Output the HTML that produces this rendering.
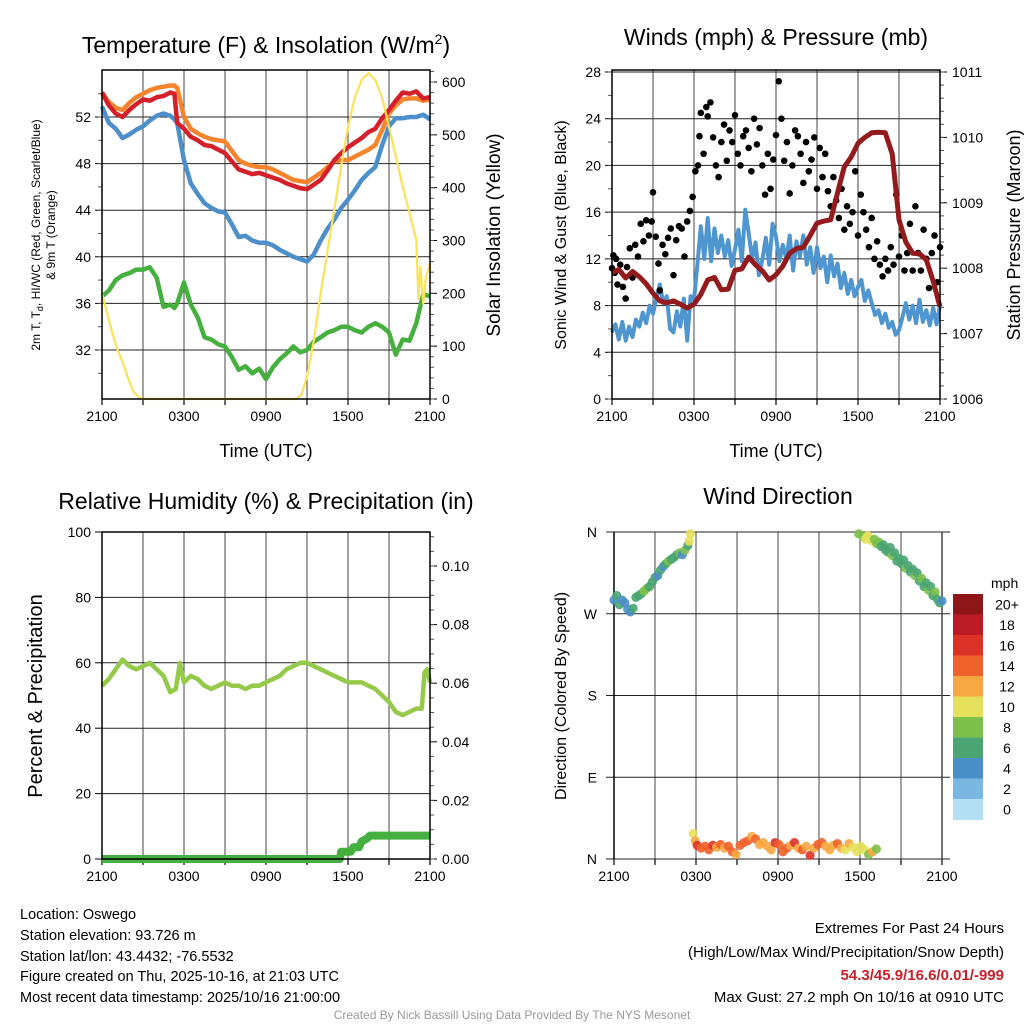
<!DOCTYPE html>
<html><head><meta charset="utf-8"><style>
html,body{margin:0;padding:0;background:#fff}
svg{display:block;font-family:"Liberation Sans",sans-serif}
</style></head><body>
<svg id="s" width="1024" height="1024" viewBox="0 0 1024 1024" xmlns="http://www.w3.org/2000/svg">
<g id="static">
<text x="266" y="53" font-size="23" text-anchor="middle">Temperature (F) &amp; Insolation (W/m<tspan font-size="14" dy="-9">2</tspan><tspan dy="9">)</tspan></text>
<text x="776" y="45" font-size="23" text-anchor="middle">Winds (mph) &amp; Pressure (mb)</text>
<text x="266" y="509" font-size="23" text-anchor="middle">Relative Humidity (%) &amp; Precipitation (in)</text>
<text x="778" y="504" font-size="23" text-anchor="middle">Wind Direction</text>
<text x="266" y="457" font-size="18" text-anchor="middle">Time (UTC)</text>
<text x="776" y="457" font-size="18" text-anchor="middle">Time (UTC)</text>
<text transform="translate(40,235) rotate(-90)" font-size="12" text-anchor="middle">2m T, T<tspan font-size="9" dy="3">d</tspan><tspan dy="-3">, HI/WC (Red, Green, Scarlet/Blue)</tspan></text>
<text transform="translate(55,235) rotate(-90)" font-size="12" text-anchor="middle">&amp; 9m T (Orange)</text>
<text transform="translate(500,235) rotate(-90)" font-size="19" text-anchor="middle">Solar Insolation (Yellow)</text>
<text transform="translate(566,235) rotate(-90)" font-size="16" text-anchor="middle">Sonic Wind &amp; Gust (Blue, Black)</text>
<text transform="translate(1020,235) rotate(-90)" font-size="18" text-anchor="middle">Station Pressure (Maroon)</text>
<text transform="translate(42,696) rotate(-90)" font-size="20" text-anchor="middle">Percent &amp; Precipitation</text>
<text transform="translate(566,696) rotate(-90)" font-size="16" text-anchor="middle">Direction (Colored By Speed)</text>
<text x="991" y="588" font-size="14">mph</text>
<g font-size="14.5">
<text x="20" y="919">Location: Oswego</text>
<text x="20" y="940">Station elevation: 93.726 m</text>
<text x="20" y="961">Station lat/lon: 43.4432; -76.5532</text>
<text x="20" y="981">Figure created on Thu, 2025-10-16, at 21:03 UTC</text>
<text x="20" y="1002">Most recent data timestamp: 2025/10/16 21:00:00</text>
</g>
<g font-size="15" text-anchor="end">
<text x="1004" y="933">Extremes For Past 24 Hours</text>
<text x="1004" y="957">(High/Low/Max Wind/Precipitation/Snow Depth)</text>
<text x="1004" y="980" fill="#c8202a" font-weight="bold">54.3/45.9/16.6/0.01/-999</text>
<text x="1004" y="1002">Max Gust: 27.2 mph On 10/16 at 0910 UTC</text>
</g>
<text x="512" y="1019" font-size="12" fill="#999" text-anchor="middle">Created By Nick Bassill Using Data Provided By The NYS Mesonet</text>
</g>
</svg>
<script>
// ---- Temperature panel data (hours since 2100 UTC) ----
const tH = [0,0.5,1,1.5,2,2.5,3,3.5,4,4.5,5,5.3,5.5,6,6.5,7,7.5,8,8.5,9,9.5,10,10.5,11,11.5,12,12.5,13,13.5,14,14.5,15,15.5,16,16.5,17,17.5,18,18.5,19,19.5,20,20.5,21,21.5,22,22.5,23,23.5,24];
const tRed = [54.1,53.0,52.3,52.0,52.6,53.1,53.5,53.4,53.7,53.8,54.1,54.0,51.5,51.0,50.3,50.0,49.6,49.5,49.2,48.9,48.2,47.5,47.3,47.1,47.2,47.0,46.8,46.6,46.3,46.1,45.9,45.8,46.2,46.6,47.4,48.3,48.9,49.4,49.8,50.2,50.7,51.0,51.9,52.6,53.4,54.1,54.0,54.2,53.6,53.7];
const tOrange = [54.1,53.3,52.8,52.6,53.2,53.7,54.0,54.3,54.5,54.6,54.7,54.7,54.5,52.0,51.0,50.6,50.3,50.1,50.0,49.9,49.1,48.3,48.0,47.8,47.7,47.7,47.5,47.2,46.9,46.6,46.5,46.4,46.8,47.2,47.7,48.2,48.3,48.3,48.6,48.9,49.2,49.6,50.9,52.3,53.0,53.5,53.6,53.6,53.4,53.5];
const tBlue = [52.9,51.5,51.0,50.2,50.5,50.9,51.2,51.7,52.1,52.3,52.1,51.8,51.5,48.3,46.3,45.4,44.6,44.2,43.9,43.8,42.8,41.7,41.8,41.4,41.2,41.2,41.0,40.6,40.3,40.0,39.8,39.6,40.2,41.4,42.4,43.2,44.2,44.9,45.7,46.6,47.2,47.7,49.6,51.2,51.9,51.9,52.0,52.0,52.2,51.8];
const tGreen = [36.6,37.1,38.0,38.4,38.6,38.9,38.9,39.1,38.2,35.7,35.9,35.6,36.0,37.8,35.9,34.8,33.1,32.9,32.5,32.3,31.4,30.3,30.6,30.0,30.4,29.5,30.5,31.2,31.7,32.3,31.8,32.0,32.7,33.1,33.5,33.7,34.0,34.0,33.7,33.5,34.0,34.3,34.0,33.5,31.6,32.9,32.8,34.3,36.8,36.6];
const solH = [0,0.3,0.7,1.1,1.5,1.9,2.3,2.7,3,6,9,12,14.2,14.6,15,15.5,16,16.5,17,17.5,18,18.5,19,19.5,20,20.5,21,21.5,22,22.5,23,23.15,23.3,23.5,23.7,24];
const solW = [200,170,130,96,70,40,14,3,0,0,0,0,0,8,42,110,200,280,358,440,515,570,604,617,604,570,515,460,402,352,301,190,250,180,230,257];
// ---- Wind panel data ----
const wH = [0,0.25,0.5,0.75,1,1.25,1.5,1.75,2,2.25,2.5,2.75,3,3.25,3.5,3.75,4,4.25,4.5,4.75,5,5.25,5.5,5.75,6,6.25,6.5,6.75,7,7.25,7.5,7.75,8,8.25,8.5,8.75,9,9.25,9.5,9.75,10,10.25,10.5,10.75,11,11.25,11.5,11.75,12,12.25,12.5,12.75,13,13.25,13.5,13.75,14,14.25,14.5,14.75,15,15.25,15.5,15.75,16,16.25,16.5,16.75,17,17.25,17.5,17.75,18,18.25,18.5,18.75,19,19.25,19.5,19.75,20,20.25,20.5,20.75,21,21.25,21.5,21.75,22,22.25,22.5,22.75,23,23.25,23.5,23.75,24];
const wSpd = [5.7,6.4,5.1,6.6,5.0,6.2,5.3,6.8,6.2,7.4,6.5,8.0,7.3,8.6,9.8,8.2,8.8,6.0,5.7,7.5,6.2,8.6,5.0,8.8,8.5,11.5,14.8,12.0,15.5,11.8,14.6,12.5,14.0,12.2,13.6,11.4,12.8,14.5,11.8,16.2,14.2,12.0,13.4,10.6,11.9,13.8,11.5,15.0,13.9,11.8,13.2,12.0,14.0,11.0,13.5,12.2,14.0,11.5,13.0,10.8,13.0,11.2,12.2,10.0,12.3,10.5,11.6,9.5,10.8,9.0,10.2,8.8,9.6,10.2,8.4,9.3,8.2,7.2,7.6,6.5,7.3,6.1,6.6,5.5,5.9,7.0,8.2,6.8,8.0,6.5,8.5,6.6,7.6,6.3,7.8,6.4,8.0,7.2,6.0];
const pH = [0,0.5,1,1.5,2,2.5,3,3.5,4,4.5,5,5.5,6,6.5,7,7.5,8,8.5,9,9.5,10,10.5,11,11.5,12,12.5,13,13.5,14,14.5,15,15.5,16,16.5,17,17.5,18,18.5,19,19.5,20,20.5,21,21.5,22,22.5,23,23.5,24];
const pMb = [1007.93,1007.98,1007.85,1007.95,1007.87,1007.76,1007.62,1007.50,1007.47,1007.50,1007.45,1007.39,1007.45,1007.60,1007.82,1007.86,1007.67,1007.68,1007.97,1007.99,1008.17,1008.05,1007.96,1007.82,1007.90,1008.03,1008.23,1008.30,1008.32,1008.50,1008.69,1008.72,1008.74,1009.15,1009.55,1009.70,1009.91,1010.00,1010.07,1010.08,1010.07,1009.75,1008.74,1008.40,1008.23,1008.22,1008.13,1007.80,1007.41];
const gH = [0,0.1,0.2,0.3,0.4,0.6,0.8,1.0,1.1,1.3,1.5,1.7,1.9,2.1,2.3,2.5,2.7,2.9,3.0,3.2,3.4,3.5,3.7,3.9,4.1,4.3,4.5,4.7,4.9,5.1,5.3,5.5,5.7,5.9,6.1,6.3,6.4,6.5,6.7,6.9,7.0,7.2,7.4,7.6,7.8,8.0,8.2,8.4,8.6,8.8,9.0,9.2,9.4,9.6,9.8,10.0,10.2,10.4,10.6,10.8,11.0,11.2,11.4,11.6,11.8,12.0,12.2,12.4,12.6,12.8,13.0,13.2,13.4,13.6,13.8,14.0,14.2,14.4,14.6,14.8,15.0,15.2,15.4,15.6,15.8,16.0,16.2,16.4,16.6,16.8,17.0,17.2,17.4,17.6,17.8,18.0,18.2,18.4,18.6,18.8,19.0,19.2,19.4,19.6,19.8,20.0,20.2,20.4,20.6,20.8,21.0,21.2,21.4,21.6,21.8,22.0,22.2,22.4,22.6,22.8,23.0,23.2,23.4,23.6,23.8,24.0];
const gSpd = [11.2,12.3,10.8,12.0,9.8,11.5,9.6,8.6,11.3,12.9,10.4,13.2,12.2,15.0,13.5,15.3,14.0,15.2,17.7,13.9,11.6,9.3,13.2,12.4,13.8,14.6,10.6,13.6,14.8,14.6,12.2,15.2,16.1,17.3,19.5,20.0,22.5,24.5,21.0,25.0,24.2,25.4,22.4,20.0,19.0,22.0,23.5,20.4,23.0,22.0,24.3,21.0,20.0,22.5,23.0,21.5,19.5,24.0,21.8,23.2,20.0,17.5,21.0,18.0,20.5,22.6,27.2,24.0,20.4,22.0,17.6,20.0,23.0,22.5,21.0,18.5,22.0,19.5,20.5,22.4,18.0,21.5,19.0,21.0,17.8,16.5,19.0,17.0,15.5,18.0,14.5,16.5,15.0,16.0,19.5,14.0,17.5,16.0,14.5,13.0,15.5,12.0,13.5,11.5,10.5,12.0,11.0,13.0,11.5,17.5,12.2,14.0,11.0,12.5,15.0,11.0,16.5,12.5,11.0,14.5,12.0,9.5,12.5,14.0,10.0,13.0];
// ---- Humidity panel data ----
const rhH = [0,0.5,1,1.5,2,2.5,3,3.5,4,4.5,5,5.4,5.7,6,6.5,7,7.5,8,8.5,9,9.5,10,10.5,11,11.5,12,12.5,13,13.5,14,14.5,15,15.5,16,16.5,17,17.5,18,18.5,19,19.5,20,20.5,21,21.5,22,22.5,23,23.4,23.6,23.8,24];
const rhVal = [53,55,58,61,59,58,59,60,58,56,51,52,60,54,56,55,53,52,53,54,53,53,52,53,53,54,55,56,58,59,60,60,59,58,57,56,55,54,54,54,53,52,50,48,45,44,45,46,46,57,58,54];
const prH = [0,17.4,17.5,18.2,18.4,18.8,19.0,19.4,19.6,24];
const prIn = [0,0,0.0025,0.0025,0.004,0.004,0.006,0.007,0.008,0.008];
// ---- Wind direction panel data ----
const dirH = [0,0.2,0.4,0.6,0.8,1.0,1.2,1.4,1.6,1.8,2.0,2.2,2.4,2.6,2.8,3.0,3.2,3.4,3.6,3.8,4.0,4.2,4.4,4.6,4.8,5.0,5.2,5.4,5.5,5.6,
 5.8,5.94,6.09,6.37,6.66,6.94,7.23,7.51,7.80,8.08,8.37,8.65,8.94,9.22,9.51,9.79,10.08,10.36,10.65,10.93,11.22,11.50,11.79,12.07,12.36,12.64,12.93,13.21,13.50,13.78,14.07,14.35,14.64,14.92,15.21,15.49,15.78,16.06,16.35,16.63,16.92,17.20,17.49,17.77,18.06,18.34,18.63,18.91,19.2,
 17.9,18.23,18.39,18.56,18.72,18.89,19.05,19.22,19.38,19.55,19.71,19.88,20.04,20.21,20.37,20.54,20.70,20.86,21.03,21.19,21.36,21.52,21.69,21.85,22.02,22.18,22.35,22.51,22.68,22.84,23.01,23.17,23.34,23.50,23.67,23.83,24.0];
const dirDeg = [285,290,280,285,282,275,272,276,288,290,292,295,298,300,305,310,312,318,322,325,328,330,332,335,337,335,340,345,350,358,
 28,20,15,12,14,10,15,13,16,12,14,8,5,15,18,20,25,22,16,18,14,10,18,16,8,12,15,18,12,10,14,4,12,16,18,14,10,15,17,12,10,17,13,8,14,10,5,8,11,
 358,355,352,356,353,350,352,347,349,344,346,340,338,343,334,337,328,331,325,329,320,323,316,319,312,315,306,309,300,304,296,300,290,294,286,282,284];
const dirSpd = [5,6,6,4,4,5,4,6,6,7,6,8,8,7,6,6,5,6,4,6,8,6,6,7,8,4,8,7,10,10,
 10,12,16,14,14,14,16,12,14,12,14,14,12,14,14,14,12,14,12,12,12,12,16,14,14,14,12,16,12,14,12,16,12,14,14,12,12,12,14,12,10,12,10,10,10,10,8,12,8,
 8,8,10,10,10,10,8,8,8,6,6,6,6,6,8,6,6,6,6,6,8,6,6,6,8,6,6,8,6,6,8,6,6,8,6,6,4];
const cbLabels = ['20+','18','16','14','12','10','8','6','4','2','0'];
const cbColors = ['#8e1518','#bb1c26','#dc3328','#ef622b','#f7a843','#e5e05a','#7cc04b','#4aa572','#4a8ec6','#7ab8e2','#b3e0f5'];
const xTickLabels = ['2100','0300','0900','1500','2100'];

const NS='http://www.w3.org/2000/svg';
const svg=document.getElementById('s');
function mk(tag,attrs,parent){const e=document.createElementNS(NS,tag);for(const k in attrs)e.setAttribute(k,attrs[k]);(parent||svg).appendChild(e);return e;}
function txt(x,y,s,size,anchor,parent){const t=mk('text',{x:x,y:y,'font-size':size,'text-anchor':anchor},parent);t.textContent=s;return t;}
function lin(d0,d1,r0,r1){return v=>r0+(v-d0)*(r1-r0)/(d1-d0);}
function pathD(xs,ys,fx,fy){return xs.map((h,i)=>(i?'L':'M')+fx(h).toFixed(1)+','+fy(ys[i]).toFixed(1)).join('');}
function colorFor(s){let i=Math.min(10,Math.floor(s/2));return cbColors[10-i];}

function frame(g,x0,x1,y0,y1){
  const fx=lin(0,24,x0,x1);
  for(let h=3;h<24;h+=3){const l=mk('line',{x1:fx(h),x2:fx(h),y1:y0,y2:y1,stroke:'#444','stroke-width':1},g);
    
    }
  for(let h=0;h<=24;h+=3){mk('line',{x1:fx(h),x2:fx(h),y1:y1,y2:y1+6,stroke:'#000','stroke-width':1.2},g);}
  xTickLabels.forEach((s,i)=>{const t=txt(fx(i*6),y1+22,s,14,'middle',g);
    
    });
  return fx;
}
function border(g,x0,x1,y0,y1){const r=mk('rect',{x:x0,y:y0,width:x1-x0,height:y1-y0,fill:'none',stroke:'#000','stroke-width':1.5},g);
  
  }
function yAxis(g,fy,x0,x1,vals,labels,minor,side,grid){
  vals.forEach((v,i)=>{
    const y=fy(v);
    if(grid) mk('line',{x1:x0,x2:x1,y1:y,y2:y,stroke:'#222','stroke-width':1},g);
    if(side==='L'){mk('line',{x1:x0-7,x2:x0,y1:y,y2:y,stroke:'#000'},g);
      const t=txt(x0-11,y+5,labels[i],14,'end',g);
      
      }
    else {mk('line',{x1:x1,x2:x1+7,y1:y,y2:y,stroke:'#000'},g);
      const t=txt(x1+12,y+5,labels[i],14,'start',g);
      
      }
  });
  minor.forEach(v=>{const y=fy(v);
    if(side==='L') mk('line',{x1:x0-4,x2:x0,y1:y,y2:y,stroke:'#555'},g);
    else mk('line',{x1:x1,x2:x1+4,y1:y,y2:y,stroke:'#555'},g);});
}
function range(a,b,s){const r=[];for(let v=a;v<=b+1e-9;v+=s)r.push(+v.toFixed(4));return r;}

// ===== Panel 1 =====
(function(){
  const g=mk('g',{});
  
  
  const x0=102,x1=430,y0=70,y1=399;
  const fx=frame(g,x0,x1,y0,y1);
  const fy=lin(52,32,117,350);
  const fs=lin(0,600,399,82);
  yAxis(g,fy,x0,x1,[52,48,44,40,36,32],['52','48','44','40','36','32'],range(30,54,2),'L',true);
  yAxis(g,fs,x0,x1,[0,100,200,300,400,500,600],['0','100','200','300','400','500','600'],range(0,620,20),'R',false);
  const series=[[tGreen,'#45b03f','dewpoint-line'],[tBlue,'#4c8fca','heat-index-windchill-line'],[tOrange,'#f5842c','9m-temperature-line'],[tRed,'#d3202a','2m-temperature-line']];
  series.forEach(s=>{const p=mk('path',{d:pathD(tH,s[0],fx,fy),fill:'none',stroke:s[1],'stroke-width':4.5,'stroke-linejoin':'round'},g);
    
    });
  const sp=mk('path',{d:pathD(solH,solW,fx,fs),fill:'none',stroke:'#fbe25a','stroke-width':2.2,'stroke-linejoin':'round'},g);
  
  
  border(g,x0,x1,y0,y1);
})();

// ===== Panel 2 =====
(function(){
  const g=mk('g',{});
  
  
  const x0=612,x1=940,y0=70,y1=399;
  const fx=frame(g,x0,x1,y0,y1);
  const fy=lin(0,28,399,72);
  const fp=lin(1006,1011,399,72);
  yAxis(g,fy,x0,x1,[0,4,8,12,16,20,24,28],['0','4','8','12','16','20','24','28'],range(0,28,2),'L',true);
  yAxis(g,fp,x0,x1,[1006,1007,1008,1009,1010,1011],['1006','1007','1008','1009','1010','1011'],range(1006,1011,0.2),'R',false);
  const wp=mk('path',{d:pathD(wH,wSpd,fx,fy),fill:'none',stroke:'#4f95d0','stroke-width':4,'stroke-linejoin':'round'},g);
  
  
  gH.forEach((h,i)=>{const c=mk('circle',{cx:fx(h),cy:fy(gSpd[i]),r:3.3,fill:'#000'},g);
    
    });
  const pp=mk('path',{d:pathD(pH,pMb,fx,fp),fill:'none',stroke:'#931b1d','stroke-width':5,'stroke-linejoin':'round'},g);
  
  
  border(g,x0,x1,y0,y1);
})();

// ===== Panel 3 =====
(function(){
  const g=mk('g',{});
  
  
  const x0=102,x1=430,y0=532,y1=859;
  const fx=frame(g,x0,x1,y0,y1);
  const fy=lin(0,100,859,532);
  const fr=lin(0,0.1,859,566);
  yAxis(g,fy,x0,x1,[0,20,40,60,80,100],['0','20','40','60','80','100'],[],'L',true);
  yAxis(g,fr,x0,x1,[0,0.02,0.04,0.06,0.08,0.1],['0.00','0.02','0.04','0.06','0.08','0.10'],range(0,0.11,0.005),'R',false);
  const rp=mk('path',{d:pathD(rhH,rhVal,fx,fy),fill:'none',stroke:'#94c94a','stroke-width':4.5,'stroke-linejoin':'round'},g);
  
  
  const pp=mk('path',{d:pathD(prH,prIn,fx,fr),fill:'none',stroke:'#45b03f','stroke-width':8,'stroke-linejoin':'round'},g);
  
  
  border(g,x0,x1,y0,y1);
})();

// ===== Panel 4 =====
(function(){
  const g=mk('g',{});
  
  
  const x0=614,x1=942,y0=532,y1=859;
  const fx=frame(g,x0,x1,y0,y1);
  const fy=lin(0,360,859,532);
  [0,90,180,270,360].forEach((v,i)=>{const y=fy(v);
    mk('line',{x1:x0-8,x2:x1+8,y1:y,y2:y,stroke:'#222'},g);
    const t=txt(x0-17,y+5,['N','E','S','W','N'][i],14,'end',g);
    
    });
  mk('line',{x1:x0,x2:x0,y1:y0,y2:y1,stroke:'#000','stroke-width':1.5},g);
  mk('line',{x1:x1,x2:x1,y1:y0,y2:y1,stroke:'#444','stroke-width':1.5},g);
  dirH.forEach((h,i)=>{const c=mk('circle',{cx:fx(h),cy:fy(dirDeg[i]),r:4.6,fill:colorFor(dirSpd[i]),'fill-opacity':0.9},g);
    
    });
  const cb=mk('g',{},g);
  
  
  const bh=20.5;
  cbLabels.forEach((l,i)=>{
    const r=mk('rect',{x:953,y:594+i*bh,width:30,height:bh+0.5,fill:cbColors[i]},cb);
    
    
    const t=txt(1007,594+i*bh+bh/2+5,l,14,'middle',cb);
    
    
  });
})();
</script>
</body></html>
